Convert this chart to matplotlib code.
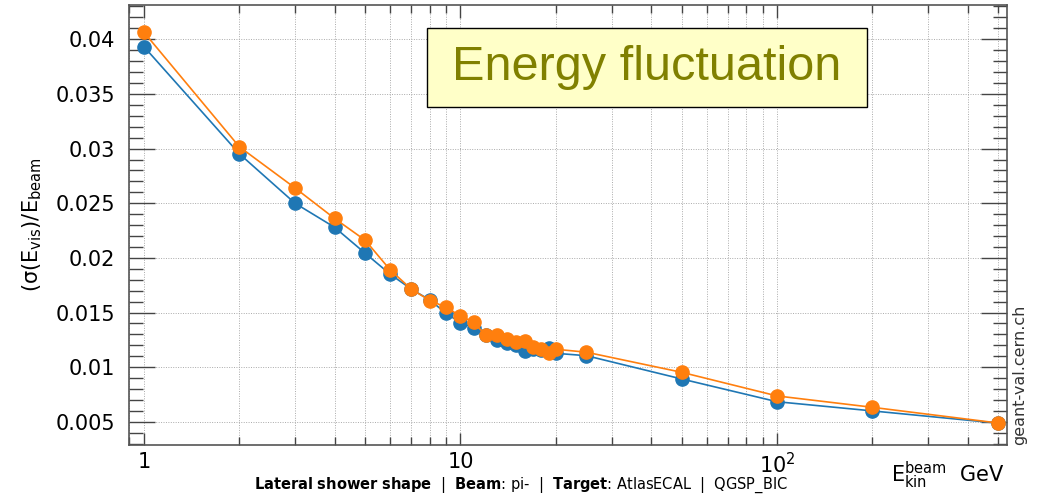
import matplotlib
matplotlib.use('Agg')
import matplotlib.pyplot as plt
from matplotlib.ticker import FixedLocator, MultipleLocator, LogLocator, NullFormatter, FuncFormatter
from matplotlib.patches import Rectangle

# beam energies (GeV) and relative resolution of the visible energy
energy = [1, 2, 3, 4, 5, 6, 7, 8, 9, 10, 11, 12, 13, 14, 15, 16, 17, 18, 19, 20,
          25, 50, 100, 200, 500]
blue_res = [0.03932, 0.02953, 0.02500, 0.02280, 0.02042, 0.01850, 0.01713, 0.01615,
            0.01493, 0.01407, 0.01361, 0.01292, 0.01249, 0.01224, 0.01203, 0.01151,
            0.01164, 0.01157, 0.01173, 0.01127, 0.01105, 0.00892, 0.00684, 0.00600,
            0.00488]
orange_res = [0.04064, 0.03017, 0.02640, 0.02361, 0.02161, 0.01889, 0.01713, 0.01610,
              0.01548, 0.01468, 0.01413, 0.01292, 0.01292, 0.01255, 0.01233, 0.01237,
              0.01182, 0.01164, 0.01133, 0.01164, 0.01137, 0.00953, 0.00737, 0.00633,
              0.00489]
blue_err = [0.0004, 0.0003, 0.0002, 0.0002, 0.0002, 0.0002, 0.0002, 0.0002, 0.0002,
            0.0002, 0.0002, 0.0002, 0.0002, 0.0002, 0.0002, 0.0002, 0.0002, 0.0002,
            0.0002, 0.0002, 0.0002, 0.0001, 0.0001, 0.0001, 0.0001]
orange_err = [0.0005, 0.0003, 0.0002, 0.0002, 0.0002, 0.0002, 0.0002, 0.0002, 0.0002,
              0.0002, 0.0002, 0.0002, 0.0002, 0.0002, 0.0002, 0.0002, 0.0002, 0.0002,
              0.0002, 0.0002, 0.0002, 0.0001, 0.0001, 0.0001, 0.0001]

x_ticks = [1, 10, 100]
x_tick_labels = ['1', '10', '$10^2$']
y_ticks = [0.005, 0.01, 0.015, 0.02, 0.025, 0.03, 0.035, 0.04]

BLUE = '#1f77b4'
ORANGE = '#ff7f0e'

plt.rcParams['font.family'] = ['DejaVu Sans']
plt.rcParams['mathtext.fontset'] = 'dejavusans'

fig = plt.figure(figsize=(10.49, 4.95), dpi=100)
ax = fig.add_axes([0.123, 0.101, 0.837, 0.889])

ax.errorbar(energy, blue_res, yerr=blue_err, fmt='o-', color=BLUE, ms=9.5, lw=1.2,
            elinewidth=1.2, capsize=0, zorder=3)
ax.errorbar(energy, orange_res, yerr=orange_err, fmt='o-', color=ORANGE, ms=9.5, lw=1.2,
            elinewidth=1.2, capsize=0, zorder=4)

ax.set_xscale('log')
ax.set_xlim(0.897, 533)
ax.set_ylim(0.00288, 0.04314)

ax.xaxis.set_major_locator(FixedLocator(x_ticks))
ax.set_xticklabels(x_tick_labels)
ax.xaxis.set_minor_locator(LogLocator(base=10, subs=range(2, 10)))
ax.xaxis.set_minor_formatter(NullFormatter())
ax.yaxis.set_major_locator(FixedLocator(y_ticks))
ax.yaxis.set_major_formatter(FuncFormatter(lambda v, p: '%g' % v))
ax.yaxis.set_minor_locator(MultipleLocator(0.001))

ax.tick_params(which='both', direction='in', top=True, right=True, colors='#444',
               labelcolor='black', labelsize=15, width=1)
ax.tick_params(axis='y', which='major', length=19, pad=10)
ax.tick_params(axis='y', which='minor', length=10)
ax.tick_params(axis='x', which='major', length=9, pad=5)
ax.tick_params(axis='x', which='minor', length=6)

ax.grid(True, which='major', axis='both', color='#aaa', lw=0.7, ls=(0, (1, 1.5)))
ax.grid(True, which='minor', axis='x', color='#aaa', lw=0.7, ls=(0, (1, 1.5)))
for s in ax.spines.values():
    s.set_color('#555')
    s.set_linewidth(1.2)

ax.set_ylabel(r'(σ(E$_{\mathrm{vis}}$)/E$_{\mathrm{beam}}$', fontsize=15, labelpad=8)

fig.text(0.958, 0.072, r'E$^{\mathrm{beam}}_{\mathrm{kin}}$  GeV', fontsize=15,
         ha='right', va='top')
fig.text(0.497, 0.0,
         r'$\bf{Lateral\ shower\ shape}$  |  $\bf{Beam}$: pi-  |  $\bf{Target}$: AtlasECAL  |  QGSP_BIC',
         fontsize=10.5, ha='center', va='bottom')
fig.text(0.972, 0.101, 'geant-val.cern.ch', rotation=90, fontsize=11.5, color='#333',
         ha='center', va='bottom')

# highlighted title box
fig.patches.append(Rectangle((427 / 1049, 1 - 107 / 495), 440 / 1049, 79 / 495,
                             transform=fig.transFigure, facecolor='#ffffc8',
                             edgecolor='black', lw=1, zorder=5))
fig.text(647 / 1049, 1 - 68 / 495, 'Energy fluctuation', fontsize=35,
         family='Liberation Sans', color='#808000', ha='center', va='center', zorder=6)

fig.savefig('out.png', dpi=100)
